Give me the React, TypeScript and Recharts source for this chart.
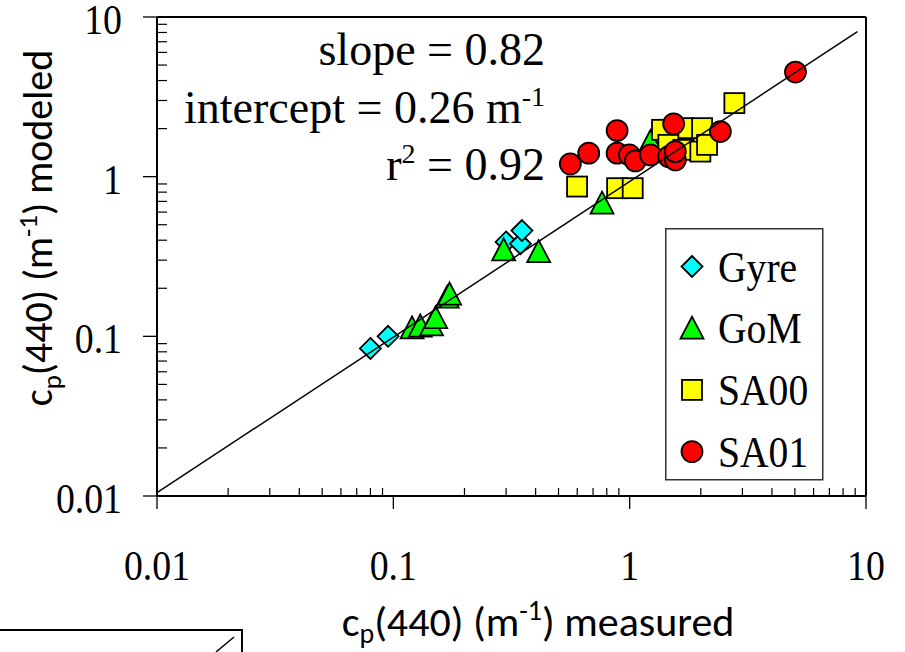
import React from "react";
import {
  ScatterChart,
  Scatter,
  XAxis,
  YAxis,
  ReferenceLine,
  Legend,
} from "recharts";

// ─── Data ─────────────────────────────────────────────────────────────────────

const MAJOR_TICKS = [0.01, 0.1, 1, 10];
const MINOR_TICKS = [
  0.02, 0.03, 0.04, 0.05, 0.06, 0.07, 0.08, 0.09,
  0.2, 0.3, 0.4, 0.5, 0.6, 0.7, 0.8, 0.9,
  2, 3, 4, 5, 6, 7, 8, 9,
];

const GYRE_X = [0.080, 0.095, 0.30, 0.345, 0.35];
const GYRE_Y = [0.084, 0.100, 0.39, 0.38, 0.46];

const GOM_X = [0.120, 0.130, 0.145, 0.151, 0.169, 0.173, 0.293, 0.412, 0.764, 1.224];
const GOM_Y = [0.113, 0.116, 0.118, 0.131, 0.176, 0.184, 0.348, 0.339, 0.682, 1.66];

const SA00_X = [0.599, 0.885, 1.03, 1.371, 1.692, 2.025, 1.458, 1.688, 1.991, 2.126, 2.774];
const SA00_Y = [0.867, 0.847, 0.847, 1.965, 2.013, 2.013, 1.582, 1.472, 1.436, 1.582, 2.888];

const SA01_X = [0.561, 0.671, 0.885, 0.885, 0.997, 1.057, 1.224, 1.535, 1.463, 1.561, 1.56, 2.42, 5.03];
const SA01_Y = [1.203, 1.404, 1.945, 1.404, 1.37, 1.256, 1.37, 2.142, 1.336, 1.274, 1.436, 1.917, 4.52];

const FIT_X = [0.01, 9.2];
const FIT_Y = [0.0105, 8.1];

const zip = (xs: number[], ys: number[]) => xs.map((x, i) => ({ x, y: ys[i] }));

// ─── Styles ───────────────────────────────────────────────────────────────────

const SERIF = "'Liberation Serif', 'Times New Roman', serif";
const SANS = "Carlito, Calibri, Lato, 'Open Sans', sans-serif";

const AXIS_MIN = 0.01;
const MINOR_LEN_X = 8;
const MINOR_LEN_Y = 10;

// minor ticks sit on the axes: x ticks along y = min, y ticks along x = min
const MINOR_X_POINTS = MINOR_TICKS.map((v) => ({ x: v, y: AXIS_MIN }));
const MINOR_Y_POINTS = MINOR_TICKS.map((v) => ({ x: AXIS_MIN, y: v }));

type MarkerKind = "diamond" | "triangle" | "square" | "circle";

interface SeriesDef {
  name: string;
  kind: MarkerKind;
  color: string;
  data: { x: number; y: number }[];
}

const SERIES: SeriesDef[] = [
  { name: "Gyre", kind: "diamond", color: "#00FFFF", data: zip(GYRE_X, GYRE_Y) },
  { name: "GoM", kind: "triangle", color: "#00FF00", data: zip(GOM_X, GOM_Y) },
  { name: "SA00", kind: "square", color: "#FFFF00", data: zip(SA00_X, SA00_Y) },
  { name: "SA01", kind: "circle", color: "#FF0000", data: zip(SA01_X, SA01_Y) },
];

// ─── Markers ──────────────────────────────────────────────────────────────────

function Marker({ kind, cx, cy, fill }: { kind: MarkerKind; cx: number; cy: number; fill: string }) {
  const common = { fill, stroke: "#000", strokeWidth: 1.8 };
  if (kind === "diamond") {
    const r = 10.5;
    return <polygon points={`${cx},${cy - r} ${cx + r},${cy} ${cx},${cy + r} ${cx - r},${cy}`} {...common} />;
  }
  if (kind === "triangle") {
    return (
      <polygon
        points={`${cx},${cy - 11.5} ${cx + 11.5},${cy + 10.5} ${cx - 11.5},${cy + 10.5}`}
        {...common}
      />
    );
  }
  if (kind === "square") {
    return <rect x={cx - 10} y={cy - 10} width={20} height={20} {...common} />;
  }
  return <circle cx={cx} cy={cy} r={10.5} {...common} />;
}

function MinorTickUp({ cx, cy }: any) {
  return <line x1={cx} x2={cx} y1={cy} y2={cy - MINOR_LEN_X} stroke="#000" strokeWidth={1.2} />;
}

function MinorTickRight({ cx, cy }: any) {
  return <line x1={cx} x2={cx + MINOR_LEN_Y} y1={cy} y2={cy} stroke="#000" strokeWidth={1.2} />;
}

// ─── Ticks & labels ───────────────────────────────────────────────────────────

function XTick({ x, y, payload }: any) {
  return (
    <text
      transform={`translate(${x},${y + 71}) scale(0.9,1)`}
      textAnchor="middle"
      fontFamily={SERIF}
      fontSize={42}
      fill="#000"
    >
      {String(payload.value)}
    </text>
  );
}

function YTick({ x, y, payload }: any) {
  return (
    <text
      transform={`translate(${x - 21},${y + 17}) scale(0.9,1)`}
      textAnchor="end"
      fontFamily={SERIF}
      fontSize={42}
      fill="#000"
    >
      {String(payload.value)}
    </text>
  );
}

function XTitle() {
  return (
    <text x={538} y={636} textAnchor="middle" fontFamily={SANS} fontSize={42} fill="#000">
      c<tspan dy={7} fontSize={28}>p</tspan>
      <tspan dy={-7}>(440) (m</tspan>
      <tspan dy={-16} fontSize={28}>-1</tspan>
      <tspan dy={16}>) measured</tspan>
    </text>
  );
}

function YTitle() {
  return (
    <text
      transform="translate(52,228) rotate(-90)"
      textAnchor="middle"
      fontFamily={SANS}
      fontSize={40}
      fill="#000"
    >
      c<tspan dy={9} fontSize={27}>p</tspan>
      <tspan dy={-9}>(440) (m</tspan>
      <tspan dy={-15} fontSize={27}>-1</tspan>
      <tspan dy={15}>) modeled</tspan>
    </text>
  );
}

function LegendBox() {
  return (
    <svg width={160} height={254} style={{ display: "block" }}>
      <rect x={0.75} y={0.75} width={157} height={251} fill="#fff" stroke="#333" strokeWidth={1.5} />
      {SERIES.map((s, i) => {
        const cy = 38.5 + i * 61.7;
        return (
          <g key={s.name}>
            <Marker kind={s.kind} cx={27} cy={cy} fill={s.color} />
            <text
              transform={`translate(53,${cy + 15}) scale(0.9,1)`}
              fontFamily={SERIF}
              fontSize={44}
              fill="#000"
            >
              {s.name}
            </text>
          </g>
        );
      })}
    </svg>
  );
}

// ─── Chart ────────────────────────────────────────────────────────────────────

export default function App() {
  return (
    <div style={{ position: "absolute", left: 0, top: 0, width: 905, height: 652, background: "#fff" }}>
      <ScatterChart width={905} height={652} margin={{ top: 17, right: 39, bottom: 56, left: 37 }}>
        <XAxis
          xAxisId="x"
          dataKey="x"
          type="number"
          scale="log"
          domain={[0.01, 10]}
          allowDataOverflow
          ticks={MAJOR_TICKS}
          interval={0}
          height={100}
          tickSize={13}
          tickMargin={0}
          tickLine={{ stroke: "#000", strokeWidth: 1.3 }}
          axisLine={{ stroke: "#000", strokeWidth: 2 }}
          tick={<XTick />}
          label={<XTitle />}
        />
        <YAxis
          yAxisId="y"
          dataKey="y"
          type="number"
          scale="log"
          domain={[0.01, 10]}
          allowDataOverflow
          ticks={MAJOR_TICKS}
          interval={0}
          width={120}
          tickSize={14}
          tickMargin={0}
          tickLine={{ stroke: "#000", strokeWidth: 1.3 }}
          axisLine={{ stroke: "#000", strokeWidth: 2 }}
          tick={<YTick />}
          label={<YTitle />}
        />
        <ReferenceLine xAxisId="x" yAxisId="y" x={10} stroke="#000" strokeWidth={2} ifOverflow="visible" />
        <ReferenceLine xAxisId="x" yAxisId="y" y={10} stroke="#000" strokeWidth={2} ifOverflow="visible" />
        <Scatter
          name="minor-x"
          xAxisId="x"
          yAxisId="y"
          data={MINOR_X_POINTS}
          legendType="none"
          isAnimationActive={false}
          shape={(p: any) => <MinorTickUp cx={p.cx} cy={p.cy} />}
        />
        <Scatter
          name="minor-y"
          xAxisId="x"
          yAxisId="y"
          data={MINOR_Y_POINTS}
          legendType="none"
          isAnimationActive={false}
          shape={(p: any) => <MinorTickRight cx={p.cx} cy={p.cy} />}
        />
        {SERIES.map((s) => (
          <Scatter
            key={s.name}
            name={s.name}
            xAxisId="x"
            yAxisId="y"
            data={s.data}
            fill={s.color}
            isAnimationActive={false}
            shape={(p: any) => <Marker kind={s.kind} cx={p.cx} cy={p.cy} fill={s.color} />}
          />
        ))}
        <Scatter
          name="fit"
          xAxisId="x"
          yAxisId="y"
          data={zip(FIT_X, FIT_Y)}
          line={{ stroke: "#000", strokeWidth: 1.5 }}
          shape={() => <g />}
          legendType="none"
          isAnimationActive={false}
        />
        <Legend
          layout="vertical"
          align="center"
          verticalAlign="middle"
          content={() => <LegendBox />}
          wrapperStyle={{ left: 665, top: 228, width: 160, height: 254 }}
        />
      </ScatterChart>

      <svg
        width={905}
        height={652}
        style={{ position: "absolute", left: 0, top: 0, pointerEvents: "none" }}
      >
        <g fontFamily={SERIF} fontSize={46} fill="#000" textAnchor="end">
          <text x={545} y={65}>slope = 0.82</text>
          <text x={545} y={123}>
            intercept = 0.26 m<tspan dy={-17} fontSize={28}>-1</tspan>
          </text>
          <text x={545} y={180}>
            r<tspan dy={-17} fontSize={28}>2</tspan>
            <tspan dy={17}> = 0.92</tspan>
          </text>
        </g>
        <rect x={-2} y={630} width={244} height={40} fill="none" stroke="#000" strokeWidth={2} />
        <line x1={234} y1={637} x2={216} y2={652} stroke="#000" strokeWidth={1.5} />
      </svg>
    </div>
  );
}
